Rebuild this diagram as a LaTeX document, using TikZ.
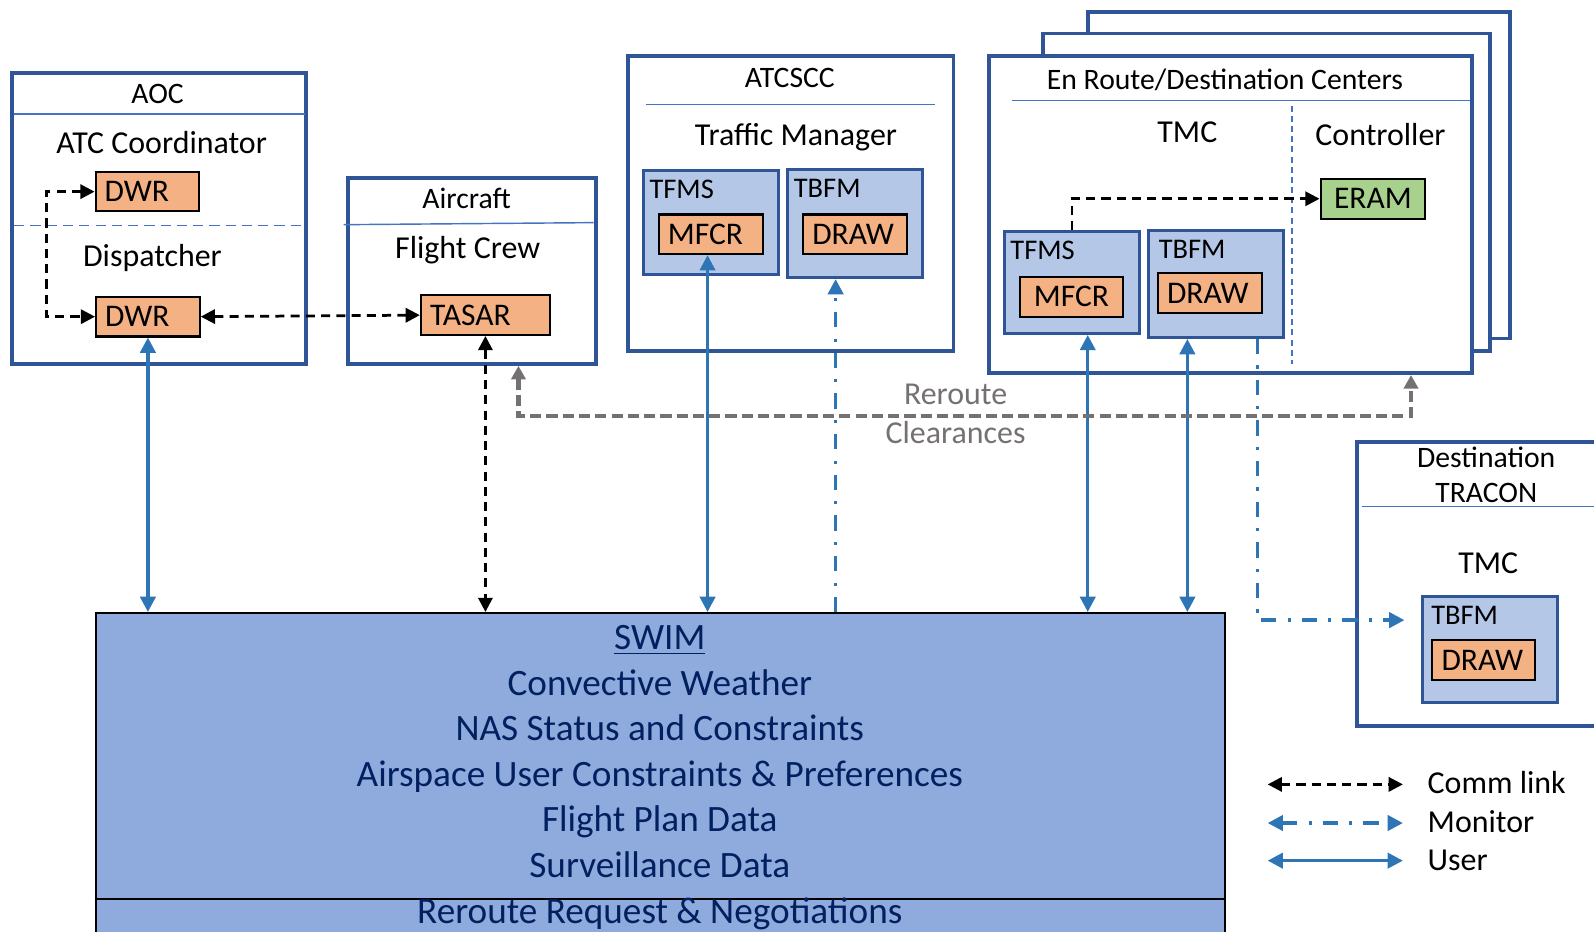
\documentclass[tikz,border=0pt]{standalone}
\usepackage{fontspec}
\setmainfont{Carlito}
\usetikzlibrary{arrows.meta}
\definecolor{boxblue}{HTML}{2F5597}
\definecolor{seplight}{HTML}{4472C4}
\definecolor{modorange}{HTML}{F4B183}
\definecolor{sysblue}{HTML}{B4C7E7}
\definecolor{eramgreen}{HTML}{A9D18E}
\definecolor{swimfill}{HTML}{8FAADC}
\definecolor{swimtext}{HTML}{002060}
\definecolor{userblue}{HTML}{2E75B6}
\definecolor{reroutegray}{HTML}{767171}
\newcommand\fsz[2]{\fontsize{#1}{#2}\selectfont}

\begin{document}
\begin{tikzpicture}[x=0.5pt,y=-0.5pt,
    group/.style 2 args={draw=boxblue,line width=1.9pt,minimum width=#1,minimum height=#2,inner sep=0pt},
    sys/.style 2 args={draw=boxblue,fill=sysblue,line width=1.5pt,minimum width=#1,minimum height=#2,inner sep=0pt},
    mod/.style={draw=black,fill=modorange,line width=1pt,minimum height=19.5pt,inner xsep=4.5pt,inner ysep=0pt,
      text width=#1,align=left,font=\fsz{15.5}{17}},
    syslbl/.style={anchor=north west,inner xsep=3.5pt,inner ysep=5pt,font=\fsz{14}{16}},
    title/.style={anchor=base,inner sep=0pt,font=\fsz{14.6}{17.5}},
    role/.style={anchor=base,inner sep=0pt,font=\fsz{15.7}{17}},
    sep/.style={seplight,line width=0.7pt},
    comm/.style={black,line width=1.35pt,dash pattern=on 4.5pt off 3pt,>={Triangle[length=7pt,width=7pt]}},
    user/.style={userblue,line width=1.6pt,>={Triangle[length=7.5pt,width=7.5pt]}},
    monitor/.style={userblue,line width=1.7pt,dash pattern=on 7.5pt off 5.5pt on 1.5pt off 5.5pt,>={Triangle[length=7.5pt,width=7.5pt]}},
    reroute/.style={reroutegray,line width=2.1pt,dash pattern=on 5.5pt off 2.5pt,>={Triangle[length=6.7pt,width=7pt]}}]
  \useasboundingbox (0,0) rectangle (1568,916);
  \clip (0,0) rectangle (1568,916);

  % containers
  \node[group={144.5pt}{143pt}] (aoc) at (156.5,215) {};
  \node[group={122pt}{91.5pt}] (aircraft) at (464,266.5) {};
  \node[group={160pt}{145pt}] (atcscc) at (778,200) {};
  \node[group={207.5pt}{160.5pt},fill=white] (erC) at (1277.5,172.5) {};
  \node[group={220pt}{156pt},fill=white] (erB) at (1246,189) {};
  \node[group={237.5pt}{156pt},fill=white] (erA) at (1210.5,211) {};
  \node[group={132.5pt}{139.5pt}] (tracon) at (1467.5,574.5) {};
  \node[draw=black,fill=swimfill,line width=1pt,minimum width=555.5pt,minimum height=168.5pt] (swim) at (649.5,771.5) {};

  \draw[sep] (14,112) -- (300,112);
  \draw[sep,dash pattern=on 5pt off 3pt] (14,222) -- (298,222);
  \draw[sep] (338,221) -- (584,219);
  \draw[sep] (635,103) -- (920,103);
  \draw[sep] (995,99) -- (1446,99);
  \draw[sep,dash pattern=on 3pt off 2pt] (1271,104) -- (1271,358);
  \draw[sep] (1340,498) -- (1568,498);
  \draw[line width=1pt] ([yshift=-56.25pt]swim.west) -- ([yshift=-56.25pt]swim.east);

  % titles and roles
  \node[title] (aocT) at (155,102) {AOC};
  \node[role] (atcc) at (159,151) {ATC Coordinator};
  \node[role] (disp) at (150,262) {Dispatcher};
  \node[title] (acT) at (459,205.5) {Aircraft};
  \node[role] (crew) at (460,254) {Flight Crew};
  \node[title] (scT) at (777,86.5) {ATCSCC};
  \node[role] (tm) at (783,143) {Traffic Manager};
  \node[title] (erT) at (1205,88.5) {En Route/Destination Centers};
  \node[role] (tmcA) at (1168,140) {TMC};
  \node[role] (ctl) at (1358,143) {Controller};
  \node[title,align=center] (trT) at (1462,494.5) {Destination\\TRACON};
  \node[role] (tmcB) at (1464,564) {TMC};

  % systems and modules
  \node[mod=42pt] (dwrA) at (145,188.5) {DWR};
  \node[mod=42pt] (dwrB) at (145.5,311.5) {DWR};
  \node[mod=54.5pt] (tasar) at (477.5,310) {TASAR};
  \node[sys={66.5pt}{51pt}] (tfmsA) at (699.5,219) {};
  \node[syslbl] (tfmsAl) at (tfmsA.north west) {TFMS};
  \node[mod=42.5pt] (mfcrA) at (699.5,230.5) {MFCR};
  \node[sys={66pt}{53pt}] (tbfmA) at (841,220) {};
  \node[syslbl] (tbfmAl) at (tbfmA.north west) {TBFM};
  \node[mod=42pt] (drawA) at (841,230.5) {DRAW};
  \node[sys={66.5pt}{50pt}] (tfmsB) at (1054.5,278) {};
  \node[syslbl] (tfmsBl) at (tfmsB.north west) {TFMS};
  \node[mod=42pt,align=center] (mfcrB) at (1054,292) {MFCR};
  \node[sys={66.5pt}{52.5pt}] (tbfmB) at (1196.5,279.5) {};
  \node[syslbl,inner xsep=5.5pt] (tbfmBl) at (tbfmB.north west) {TBFM};
  \node[mod=42pt] (drawB) at (1190,288.5) {DRAW};
  \node[mod=42.5pt,fill=eramgreen,align=center] (eram) at (1350.5,195.5) {ERAM};
  \node[sys={66.5pt}{52pt}] (tbfmC) at (1465.5,639) {};
  \node[syslbl,inner xsep=5pt] (tbfmCl) at (tbfmC.north west) {TBFM};
  \node[mod=41.5pt] (drawC) at (1459.5,649.5) {DRAW};

  % SWIM contents
  \node[anchor=base,align=center,inner sep=0pt,text=swimtext,font=\fsz{18.3}{22.4}] (swimT) at (649,908)
    {\underline{SWIM}\\Convective Weather\\NAS Status and Constraints\\Airspace User Constraints \& Preferences\\
     Flight Plan Data\\Surveillance Data\\Reroute Request \& Negotiations};

  % links
  \draw[comm,<->] (dwrA.west) -- ++(-47,0) |- (dwrB.west);
  \draw[comm,<->] (dwrB.east) -- (tasar.west);
  \draw[comm,<->] (tasar.south) -- (tasar.south |- swim.north);
  \draw[comm,->] (tfmsB.north) |- (eram.west);
  \draw[user,<->] (dwrB.south) -- (dwrB.south |- swim.north);
  \draw[user,<->] ([xshift=-1.75pt]mfcrA.south) -- ([xshift=-1.75pt]mfcrA.south |- swim.north);
  \draw[monitor,->] ([xshift=-9.5pt]tbfmA.south |- swim.north) -- ([xshift=-9.5pt]tbfmA.south);
  \draw[user,<->] ([xshift=7.75pt]tfmsB.south) -- ([xshift=7.75pt]tfmsB.south |- swim.north);
  \draw[user,<->] ([xshift=-14.25pt]tbfmB.south) -- ([xshift=-14.25pt]tbfmB.south |- swim.north);
  \draw[monitor,->,shorten >=8pt] ([xshift=20.25pt]tbfmB.south) |- ([yshift=14.5pt]tbfmC.west);
  \draw[reroute,<->] ([xshift=23pt]aircraft.south) -- ++(0,49) -| ([xshift=88.75pt]erA.south);
  \node[role,text=reroutegray] (rrA) at (940,398) {Reroute};
  \node[role,text=reroutegray] (rrB) at (940,436) {Clearances};

  % legend
  \node[role,anchor=base west] (lgcomm) at (1404,781) {Comm link};
  \node[role,anchor=base west] (lgmon) at (1404,819) {Monitor};
  \node[role,anchor=base west] (lguser) at (1404,856) {User};
  \draw[comm,<->] ([xshift=-78.5pt,yshift=4.7pt]lgcomm.base west) -- ([xshift=-12pt,yshift=4.7pt]lgcomm.base west);
  \draw[monitor,<->] ([xshift=-78.5pt,yshift=4.7pt]lgmon.base west) -- ([xshift=-12pt,yshift=4.7pt]lgmon.base west);
  \draw[user,<->] ([xshift=-78.5pt,yshift=4.7pt]lguser.base west) -- ([xshift=-12pt,yshift=4.7pt]lguser.base west);
\end{tikzpicture}
\end{document}
